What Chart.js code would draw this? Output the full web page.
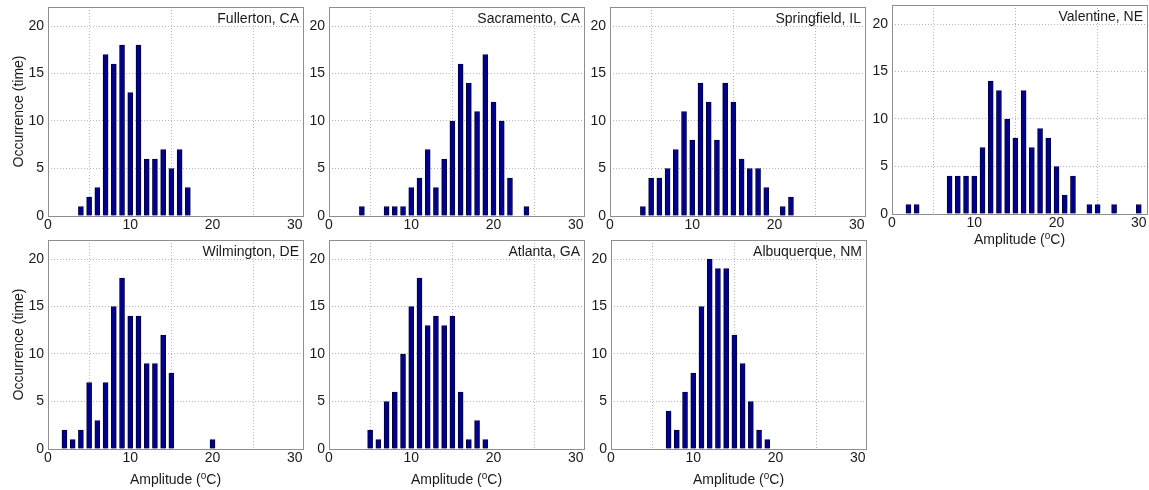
<!DOCTYPE html>
<html>
<head>
<meta charset="utf-8">
<title>Amplitude histograms</title>
<script src="https://cdn.jsdelivr.net/npm/chart.js@4.4.0/dist/chart.umd.min.js"></script>
<style>
    body { margin: 0; background: #fff; width: 1149px; height: 490px; overflow: hidden; position: relative; }
    canvas.panel { position: absolute; }
</style>
</head>
<body>
<script>
// --- Axis ticks and ranges ---
const xTicks = [0, 10, 20, 30];
const yTicks = [0, 5, 10, 15, 20];
const xMax = 31;
const yMax = 22;

// --- Occurrence counts per amplitude bin (°C) ---
const fullertonAmp = [4, 5, 6, 7, 8, 9, 10, 11, 12, 13, 14, 15, 16, 17];
const fullertonCount = [1, 2, 3, 17, 16, 18, 13, 18, 6, 6, 7, 5, 7, 3];

const sacramentoAmp = [4, 7, 8, 9, 10, 11, 12, 13, 14, 15, 16, 17, 18, 19, 20, 21, 22, 24];
const sacramentoCount = [1, 1, 1, 1, 3, 4, 7, 3, 6, 10, 16, 14, 11, 17, 12, 10, 4, 1];

const springfieldAmp = [4, 5, 6, 7, 8, 9, 10, 11, 12, 13, 14, 15, 16, 17, 18, 19, 21, 22];
const springfieldCount = [1, 4, 4, 5, 7, 11, 8, 14, 12, 8, 14, 12, 6, 5, 5, 3, 1, 2];

const valentineAmp = [2, 3, 7, 8, 9, 10, 11, 12, 13, 14, 15, 16, 17, 18, 19, 20, 21, 22, 24, 25, 27, 30];
const valentineCount = [1, 1, 4, 4, 4, 4, 7, 14, 13, 10, 8, 13, 7, 9, 8, 5, 2, 4, 1, 1, 1, 1];

const wilmingtonAmp = [2, 3, 4, 5, 6, 7, 8, 9, 10, 11, 12, 13, 14, 15, 20];
const wilmingtonCount = [2, 1, 2, 7, 3, 7, 15, 18, 14, 14, 9, 9, 12, 8, 1];

const atlantaAmp = [5, 6, 7, 8, 9, 10, 11, 12, 13, 14, 15, 16, 17, 18, 19];
const atlantaCount = [2, 1, 5, 6, 10, 15, 18, 13, 14, 13, 14, 6, 1, 3, 1];

const albuquerqueAmp = [7, 8, 9, 10, 11, 12, 13, 14, 15, 16, 17, 18, 19];
const albuquerqueCount = [4, 2, 6, 8, 15, 20, 19, 19, 12, 9, 5, 2, 1];

const stations = [
    { name: 'Fullerton, CA', amp: fullertonAmp, count: fullertonCount },
    { name: 'Sacramento, CA', amp: sacramentoAmp, count: sacramentoCount },
    { name: 'Springfield, IL', amp: springfieldAmp, count: springfieldCount },
    { name: 'Valentine, NE', amp: valentineAmp, count: valentineCount },
    { name: 'Wilmington, DE', amp: wilmingtonAmp, count: wilmingtonCount },
    { name: 'Atlanta, GA', amp: atlantaAmp, count: atlantaCount },
    { name: 'Albuquerque, NM', amp: albuquerqueAmp, count: albuquerqueCount }
];

// Where each plot area sits on the page, and which axis titles it carries
const boxes = [
    { left: 48, top: 7, yTitle: true, xTitle: false },
    { left: 329, top: 7, yTitle: false, xTitle: false },
    { left: 610, top: 7, yTitle: false, xTitle: false },
    { left: 892, top: 5, yTitle: false, xTitle: true, xTitleGap: 30 },
    { left: 48, top: 240, yTitle: true, xTitle: true, xTitleGap: 35 },
    { left: 329, top: 240, yTitle: false, xTitle: true, xTitleGap: 35 },
    { left: 611, top: 240, yTitle: false, xTitle: true, xTitleGap: 35 }
];

const PLOT_W = 255;
const PLOT_H = 209;
const AXIS_W = 48;   // room for y tick labels + title
const AXIS_H = 42;   // room for x tick labels + title
const PAD_TOP = 3;
const PAD_RIGHT = 6;

const FONT = '"Liberation Sans", Arial, Helvetica, sans-serif';
const TEXT_COLOR = '#1a1a1a';

// Box, station name and axis titles drawn on top of each plot
const framePlugin = {
    id: 'frame',
    afterDraw(chart, args, opts) {
        const { ctx, chartArea: a } = chart;
        ctx.save();

        ctx.strokeStyle = '#8e8e8e';
        ctx.lineWidth = 1;
        ctx.strokeRect(Math.round(a.left) + 0.5, Math.round(a.top) + 0.5,
            Math.round(a.right - a.left), Math.round(a.bottom - a.top));

        ctx.fillStyle = TEXT_COLOR;
        ctx.font = '14px ' + FONT;
        ctx.textAlign = 'right';
        ctx.textBaseline = 'alphabetic';
        ctx.fillText(opts.name, a.right - 4, a.top + 16);

        if (opts.yTitle) {
            ctx.save();
            ctx.translate(19, (a.top + a.bottom) / 2);
            ctx.rotate(-Math.PI / 2);
            ctx.textAlign = 'center';
            ctx.textBaseline = 'middle';
            ctx.fillText('Occurrence (time)', 0, 0);
            ctx.restore();
        }

        if (opts.xTitle) {
            // "Amplitude (°C)" with a raised small o
            const pre = 'Amplitude (';
            const sup = 'o';
            const post = 'C)';
            ctx.font = '14px ' + FONT;
            const wPre = ctx.measureText(pre).width;
            const wPost = ctx.measureText(post).width;
            ctx.font = '10px ' + FONT;
            const wSup = ctx.measureText(sup).width;
            const total = wPre + wSup + wPost;
            let x = (a.left + a.right) / 2 - total / 2;
            const y = a.bottom + opts.gap;
            ctx.textAlign = 'left';
            ctx.font = '14px ' + FONT;
            ctx.fillText(pre, x, y);
            x += wPre;
            ctx.font = '10px ' + FONT;
            ctx.fillText(sup, x, y - 5);
            x += wSup;
            ctx.font = '14px ' + FONT;
            ctx.fillText(post, x, y);
        }
        ctx.restore();
    }
};

function buildPanel(station, box) {
    const canvas = document.createElement('canvas');
    canvas.className = 'panel';
    canvas.width = AXIS_W + PLOT_W + PAD_RIGHT;
    canvas.height = PAD_TOP + PLOT_H + AXIS_H;
    canvas.style.left = (box.left - AXIS_W) + 'px';
    canvas.style.top = (box.top - PAD_TOP) + 'px';
    document.body.appendChild(canvas);

    const points = station.amp.map((a, i) => ({ x: a, y: station.count[i] }));

    return new Chart(canvas.getContext('2d'), {
        type: 'bar',
        data: {
            datasets: [{
                data: points,
                backgroundColor: '#00008c',
                borderColor: '#000040',
                borderWidth: 1,
                borderSkipped: 'start',
                barThickness: 5
            }]
        },
        options: {
            responsive: false,
            animation: false,
            devicePixelRatio: 1,
            layout: { padding: { top: PAD_TOP, right: PAD_RIGHT, bottom: 0, left: 0 } },
            plugins: {
                legend: { display: false },
                tooltip: { enabled: false },
                frame: { name: station.name, xTitle: box.xTitle, yTitle: box.yTitle, gap: box.xTitleGap }
            },
            scales: {
                x: {
                    type: 'linear',
                    min: 0,
                    max: xMax,
                    offset: false,
                    afterBuildTicks: s => { s.ticks = xTicks.map(v => ({ value: v })); },
                    afterFit: s => {
                        s.height = AXIS_H;
                        s.paddingLeft = 0;
                        s.paddingRight = 0;
                    },
                    grid: { color: '#b4b4b4', drawTicks: false },
                    border: { display: false, dash: [1, 2] },
                    ticks: { color: TEXT_COLOR, font: { family: FONT, size: 14 }, padding: 1, maxRotation: 0 }
                },
                y: {
                    min: 0,
                    max: yMax,
                    afterBuildTicks: s => { s.ticks = yTicks.map(v => ({ value: v })); },
                    afterFit: s => {
                        s.width = AXIS_W;
                        s.paddingTop = 0;
                        s.paddingBottom = 0;
                    },
                    grid: { color: '#b4b4b4', drawTicks: false },
                    border: { display: false, dash: [1, 2] },
                    ticks: { color: TEXT_COLOR, font: { family: FONT, size: 14 }, padding: 4 }
                }
            }
        },
        plugins: [framePlugin]
    });
}

stations.forEach((st, i) => buildPanel(st, boxes[i]));
</script>
</body>
</html>
